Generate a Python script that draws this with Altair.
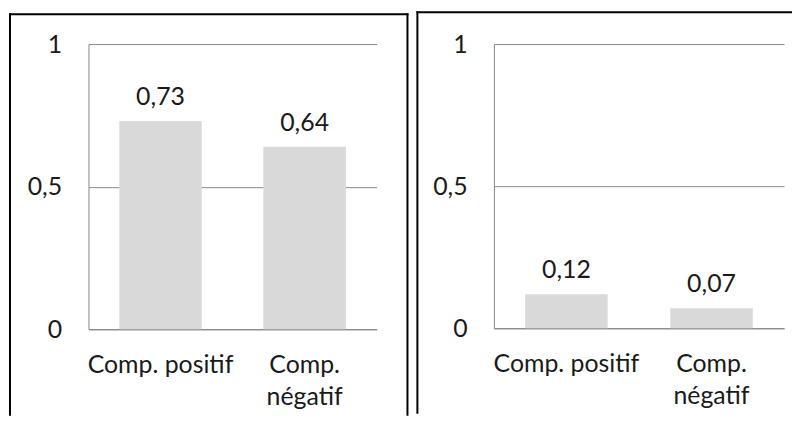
import altair as alt
import pandas as pd

categories = ["Comp. positif", "Comp. négatif"]
left_values = [0.73, 0.64]
right_values = [0.12, 0.07]
y_ticks = [0, 0.5, 1]

FONT = "Lato"
GRID = "#868686"
TXT = "#1a1a1a"
FS = 25


def panel(values, w, h, fl, ft, fr, fb, draw_right):
    df = pd.DataFrame({"cat": categories, "v": values})
    base = alt.Chart(df)
    x = alt.X(
        "cat:N", sort=categories,
        scale=alt.Scale(paddingInner=0, paddingOuter=0),
        axis=alt.Axis(
            title=None, labelAngle=0, ticks=False, domainColor=GRID,
            labelPadding=24, labelFontSize=FS, labelFont=FONT, labelColor=TXT,
            labelExpr="datum.value == 'Comp. négatif' ? ['Comp.', 'négatif'] : datum.label",
            labelLineHeight=32, labelLimit=0,
        ),
    )
    y = alt.Y(
        "v:Q",
        scale=alt.Scale(domain=[0, 1], nice=False),
        axis=alt.Axis(
            title=None, values=y_ticks, ticks=False, domainColor=GRID,
            grid=True, gridColor=GRID, gridOpacity=1, labelPadding=27,
            labelFontSize=FS, labelFont=FONT, labelColor=TXT, format="~g",
            labelExpr="replace(datum.label, '.', ',')",
        ),
    )
    bars = base.mark_bar(color="#d9d9d9", width=83).encode(x=x, y=y)
    text = base.transform_calculate(
        lab="replace(format(datum.v, '.2f'), '.', ',')"
    ).mark_text(
        baseline="alphabetic", dy=-16, font=FONT, fontSize=FS, color=TXT
    ).encode(x=alt.X("cat:N", sort=categories), y="v:Q", text="lab:N")

    one = alt.Data(values=[{"k": 1}])
    rule_style = dict(color="#000", strokeWidth=2, strokeCap="square")
    left_line = alt.Chart(one).mark_rule(**rule_style).encode(
        x=alt.value(fl), y=alt.value(ft), y2=alt.value(fb))
    top_line = alt.Chart(one).mark_rule(**rule_style).encode(
        x=alt.value(fl), x2=alt.value(fr), y=alt.value(ft))
    layers = [bars, text, left_line, top_line]
    if draw_right:
        right_line = alt.Chart(one).mark_rule(**rule_style).encode(
            x=alt.value(fr), y=alt.value(ft), y2=alt.value(fb))
        layers.append(right_line)
    return alt.layer(*layers).properties(width=w, height=h)


left = panel(left_values, 290, 287, -79, -30, 321, 373, True)
right = panel(right_values, 292, 286, -77, -32, 299, 371, False)

chart = alt.hconcat(left, right, spacing=6).properties(
    padding={"left": 0, "top": 1, "right": 0, "bottom": 0}
).configure_view(stroke=None)

chart.save("out.html", embed_options={"renderer": "svg", "actions": False})
